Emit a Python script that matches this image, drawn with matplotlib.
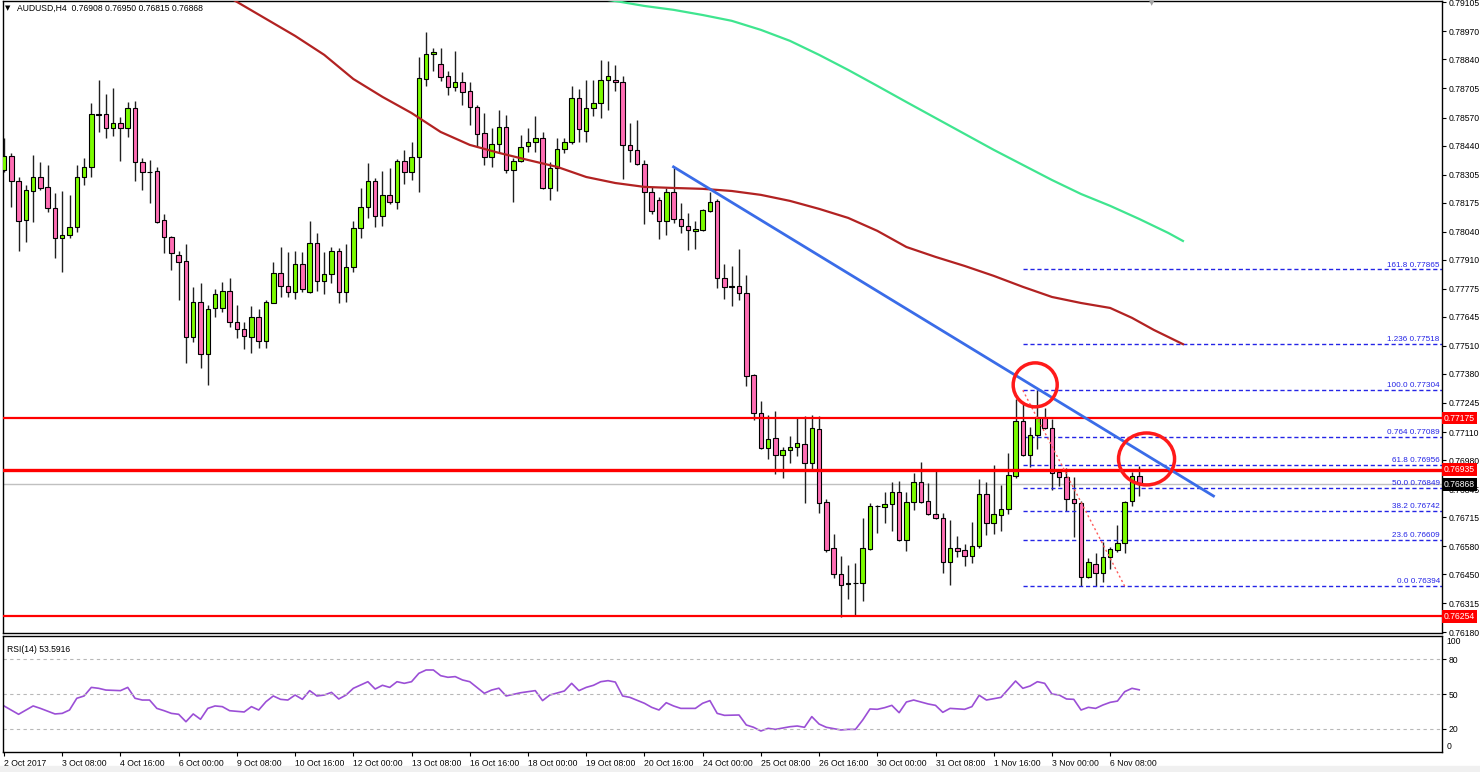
import numpy as np
import matplotlib
matplotlib.use('Agg')
import matplotlib.pyplot as plt
from matplotlib.patches import Ellipse, Rectangle
from matplotlib.transforms import blended_transform_factory

plt.rcParams['font.family'] = ['Liberation Sans', 'DejaVu Sans']

# AUDUSD H4 candles, prices in points (1e-5)
opens = [78327, 78392, 78275, 78095, 78229, 78295, 78248, 78150, 78011, 78025,   # 0
         78063, 78295, 78341, 78586, 78586, 78522, 78545, 78522, 78615, 78364,   # 10
         78318, 78322, 78095, 78016, 77932, 77904, 77552, 77714, 77472, 77686,   # 20
         77686, 77765, 77621, 77588, 77552, 77645, 77532, 77709, 77848, 77788,   # 30
         77761, 77890, 77761, 77988, 77811, 77843, 77950, 77761, 77877, 78058,   # 40
         78155, 78275, 78113, 78211, 78178, 78368, 78318, 78387, 78749, 78865,   # 50
         78818, 78763, 78713, 78736, 78694, 78620, 78498, 78387, 78447, 78527,   # 60
         78327, 78368, 78438, 78457, 78475, 78243, 78336, 78424, 78457, 78661,   # 70
         78508, 78615, 78638, 78745, 78745, 78736, 78443, 78420, 78355, 78225,   # 80
         78187, 78090, 78225, 78099, 78067, 78044, 78048, 78136, 78183, 77825,   # 90
         77784, 77788, 77756, 77375, 77199, 77036, 77083, 77004, 77027, 77041,   # 100
         77055, 76966, 77125, 76786, 76572, 76451, 76405, 76410, 76410, 76567,   # 110
         76767, 76762, 76776, 76832, 76609, 76786, 76878, 76790, 76730, 76711,   # 120
         76507, 76572, 76563, 76535, 76581, 76823, 76688, 76725, 76753, 76906,   # 130
         77162, 77004, 77097, 77175, 77129, 76925, 76902, 76800, 76781, 76437,   # 140
         76498, 76456, 76530, 76563, 76595, 76790, 76908]                        # 150
highs = [78475, 78406, 78295, 78257, 78397, 78364, 78350, 78220, 78229, 78211,
         78350, 78382, 78638, 78745, 78679, 78708, 78573, 78643, 78647, 78382,
         78373, 78341, 78122, 78020, 77950, 77983, 77784, 77802, 77700, 77774,
         77807, 77825, 77700, 77621, 77695, 77681, 77723, 77900, 77969, 77946,
         77950, 77946, 78090, 78034, 77946, 77969, 77965, 77983, 78090, 78243,
         78359, 78290, 78322, 78336, 78378, 78420, 78457, 78852, 78968, 78893,
         78893, 78786, 78879, 78782, 78736, 78629, 78591, 78522, 78605, 78582,
         78382, 78489, 78522, 78577, 78503, 78364, 78475, 78475, 78717, 78703,
         78745, 78745, 78837, 78833, 78814, 78763, 78545, 78559, 78373, 78248,
         78201, 78243, 78336, 78173, 78127, 78090, 78146, 78225, 78192, 77890,
         77881, 77960, 77839, 77380, 77254, 77190, 77208, 77041, 77092, 77175,
         77185, 77190, 77185, 76800, 76637, 76535, 76493, 76502, 76711, 76781,
         76771, 76832, 76878, 76883, 76832, 76920, 76971, 76874, 76929, 76734,
         76702, 76628, 76590, 76692, 76892, 76878, 76957, 76864, 77013, 77264,
         77250, 77134, 77304, 77222, 77171, 76939, 76943, 76902, 76790, 76525,
         76549, 76600, 76577, 76679, 76790, 76925, 76950]
lows = [78318, 78155, 77950, 77993, 78086, 78234, 78132, 77918, 77853, 78011,
        78039, 78257, 78295, 78503, 78475, 78484, 78368, 78480, 78275, 78234,
        78173, 78081, 77941, 77862, 77723, 77431, 77528, 77408, 77329, 77645,
        77668, 77598, 77547, 77495, 77477, 77500, 77500, 77709, 77737, 77737,
        77728, 77761, 77756, 77765, 77751, 77802, 77709, 77714, 77853, 78011,
        78104, 78063, 78067, 78170, 78146, 78261, 78280, 78225, 78717, 78786,
        78740, 78675, 78694, 78629, 78536, 78434, 78350, 78341, 78406, 78313,
        78178, 78364, 78411, 78411, 78238, 78187, 78229, 78406, 78447, 78457,
        78457, 78577, 78568, 78605, 78694, 78285, 78364, 78350, 78077, 78122,
        78006, 78025, 78081, 78034, 77955, 77960, 78044, 78132, 77779, 77728,
        77695, 77723, 77324, 77166, 77032, 76985, 76915, 76897, 76966, 76999,
        76781, 76939, 76734, 76553, 76433, 76252, 76335, 76256, 76326, 76563,
        76641, 76688, 76650, 76605, 76558, 76748, 76781, 76725, 76706, 76456,
        76400, 76530, 76488, 76502, 76572, 76632, 76637, 76650, 76730, 76897,
        76999, 76948, 77032, 77125, 76841, 76860, 76744, 76623, 76394, 76433,
        76396, 76414, 76474, 76553, 76549, 76767, 76815]
closes = [78392, 78275, 78090, 78234, 78295, 78243, 78150, 78011, 78025, 78063,
          78295, 78341, 78586, 78584, 78522, 78545, 78522, 78615, 78364, 78318,
          78316, 78086, 78016, 77941, 77900, 77552, 77714, 77472, 77681, 77751,
          77765, 77621, 77588, 77556, 77645, 77532, 77714, 77848, 77788, 77761,
          77890, 77774, 77988, 77811, 77843, 77950, 77761, 77877, 78058, 78155,
          78275, 78113, 78211, 78178, 78368, 78318, 78387, 78754, 78865, 78875,
          78759, 78713, 78736, 78689, 78620, 78493, 78387, 78447, 78527, 78327,
          78368, 78434, 78457, 78475, 78243, 78336, 78424, 78457, 78661, 78517,
          78615, 78638, 78745, 78763, 78736, 78443, 78420, 78355, 78225, 78136,
          78090, 78225, 78099, 78067, 78048, 78053, 78141, 78178, 77825, 77784,
          77788, 77756, 77370, 77199, 77036, 77078, 77004, 77027, 77041, 77060,
          76966, 77129, 76781, 76563, 76451, 76400, 76410, 76407, 76572, 76767,
          76765, 76776, 76832, 76609, 76786, 76878, 76786, 76730, 76711, 76507,
          76572, 76558, 76535, 76581, 76823, 76688, 76730, 76753, 76911, 77162,
          77004, 77097, 77175, 77129, 76920, 76902, 76800, 76781, 76437, 76507,
          76456, 76530, 76567, 76595, 76786, 76906, 76868]

# moving averages (shifted forward)
ma_red_idx = [28, 32, 36, 40, 44, 48, 52, 56, 60, 64, 68, 72, 76, 80, 84, 88, 92, 96,
              100, 104, 108, 112, 116, 120, 124, 128, 132, 136, 140, 144, 148, 152,
              155, 158, 162]
ma_red_val = [79186, 79107, 79028, 78949, 78861, 78749, 78666, 78591, 78503, 78443,
              78406, 78373, 78341, 78294, 78266, 78248, 78243, 78239, 78229, 78211,
              78183, 78146, 78104, 78044, 77969, 77923, 77881, 77835, 77784, 77737,
              77709, 77686, 77640, 77584, 77518]
ma_green_idx = [80, 84, 88, 92, 96, 100, 104, 108, 112, 116, 120, 124, 128, 132, 136,
                140, 144, 148, 152, 156, 160, 162]
ma_green_val = [79130, 79111, 79088, 79070, 79046, 79019, 78977, 78926, 78861, 78791,
                78717, 78642, 78568, 78494, 78420, 78350, 78280, 78215, 78160, 78099,
                78034, 77997]

# RSI(14) vertices
rsi_idx = [0, 2, 4, 5, 7, 8, 9, 10, 11, 12, 13, 14, 16, 17, 18, 19, 20, 21, 22, 23,
           24, 25, 26, 27, 28, 29, 30, 31, 33, 34, 35, 36, 37, 38, 39, 40, 41, 42, 43, 44,
           45, 46, 47, 48, 50, 51, 52, 53, 54, 55, 56, 57, 58, 59, 60, 61, 62, 63, 64, 66,
           67, 68, 69, 71, 72, 73, 74, 75, 77, 78, 79, 80, 81, 82, 83, 84, 85, 86, 88, 89,
           90, 91, 92, 93, 95, 96, 97, 98, 99, 101, 102, 103, 104, 105, 106, 108, 109, 110,
           111, 112, 113, 115, 116, 117, 118, 119, 120, 121, 122, 123, 124, 125, 127, 128,
           129, 130, 132, 133, 134, 135, 137, 139, 140, 141, 142, 143, 144, 145, 146, 147,
           148, 149, 150, 151, 152, 153, 154, 155, 156]
rsi_val = [39.7, 32.5, 39.7, 37.6, 32.8, 33.3, 36.2, 46.3, 48.3, 55.7, 54.9, 53.4, 52.9,
           55.7, 46.3, 44.8, 44.8, 37.6, 35.6, 33.3, 32.5, 26.1, 32.8, 28.2, 37.6, 39.7,
           39.1, 35.6, 34.5, 39.1, 36.2, 43.4, 48.3, 45.4, 44.8, 49.1, 45.4, 52.9, 48.3,
           49.1, 51.4, 45.7, 49.1, 54.9, 60.6, 54.3, 57.5, 55.7, 60.6, 59.2, 60.6, 67.8,
           70.7, 70.7, 65.8, 64.4, 65.0, 62.1, 60.6, 50.6, 53.4, 55.0, 48.3, 51.1, 52.0,
           52.9, 44.3, 49.1, 52.6, 59.2, 52.9, 55.7, 57.5, 60.6, 61.5, 60.3, 48.3, 47.1,
           42.0, 38.5, 36.2, 42.5, 39.7, 37.6, 37.6, 42.0, 44.3, 33.3, 31.6, 31.9, 23.3,
           21.3, 18.1, 20.4, 19.5, 21.8, 22.4, 21.3, 30.5, 24.1, 21.3, 19.0, 19.5, 19.5,
           27.6, 37.1, 36.8, 38.2, 40.2, 33.9, 43.1, 44.8, 41.4, 40.2, 34.2, 37.6, 36.8,
           39.1, 48.9, 44.8, 47.1, 61.2, 54.9, 56.9, 60.6, 59.2, 50.0, 49.1, 45.7, 45.4,
           36.2, 38.5, 37.6, 40.5, 42.8, 43.9, 52.0, 54.9, 53.59]

# trend line, support/resistance, fibonacci
trend_idx = [92, 166.2]
trend_val = [0.78341, 0.76813]
sr_levels = [0.77175, 0.76935, 0.76254]
fib_levels = [0.77865, 0.77518, 0.77304, 0.77089, 0.76956, 0.76849, 0.76742, 0.76609, 0.76394]
fib_names = ['161.8', '1.236', '100.0', '0.764', '61.8', '50.0', '38.2', '23.6', '0.0']
last_price = 0.76868

price_ticks = [0.79105, 0.78970, 0.78840, 0.78705, 0.78570, 0.78440, 0.78305, 0.78175,
               0.78040, 0.77910, 0.77775, 0.77645, 0.77510, 0.77380, 0.77245, 0.77110,
               0.76980, 0.76845, 0.76715, 0.76580, 0.76450, 0.76315, 0.76180]
time_labels = ['2 Oct 2017', '3 Oct 08:00', '4 Oct 16:00', '6 Oct 00:00', '9 Oct 08:00',
               '10 Oct 16:00', '12 Oct 00:00', '13 Oct 08:00', '16 Oct 16:00', '18 Oct 00:00',
               '19 Oct 08:00', '20 Oct 16:00', '24 Oct 00:00', '25 Oct 08:00', '26 Oct 16:00',
               '30 Oct 00:00', '31 Oct 08:00', '1 Nov 16:00', '3 Nov 00:00', '6 Nov 08:00']

W, H = 1480, 772
fig = plt.figure(figsize=(W / 100, H / 100), dpi=100)
fig.patch.set_facecolor('white')


def px_axes(x0, y0, x1, y1):
    return fig.add_axes([x0 / W, 1 - y1 / H, (x1 - x0) / W, (y1 - y0) / H])


ax = px_axes(3, 1, 1442, 633)
axr = px_axes(3, 636, 1442, 752)
XMAX = 197.6
for a in (ax, axr):
    a.set_xlim(-0.14, XMAX)
    for s in a.spines.values():
        s.set_color('black')
        s.set_linewidth(1)

o = np.array(opens) / 1e5
h = np.array(highs) / 1e5
l = np.array(lows) / 1e5
c = np.array(closes) / 1e5
idx = np.arange(len(o))
up = c >= o

ax.vlines(idx, l, h, color='#202020', lw=1, zorder=2)
body_bot = np.minimum(o, c)
body_h = np.maximum(np.abs(c - o), 0.00002)
ax.bar(idx, body_h, bottom=body_bot, width=0.62,
       color=np.where(up, '#7CFC00', '#FF6EB4'), edgecolor='black', linewidth=0.8, zorder=3)

ax.plot(ma_red_idx, np.array(ma_red_val) / 1e5, color='#B22222', lw=1.6, zorder=4)
ax.plot(ma_green_idx, np.array(ma_green_val) / 1e5, color='#3FE58F', lw=1.6, zorder=4)

ax.axhline(last_price, color='#C0C0C0', lw=1, zorder=1)
for lv, lw in zip(sr_levels, [1.6, 2.4, 1.6]):
    ax.axhline(lv, color='#FF0000', lw=lw, zorder=4)

fib_start = 140
for lv, nm in zip(fib_levels, fib_names):
    ax.plot([fib_start, XMAX], [lv, lv], color='#2424E6', lw=1, ls=(0, (3, 2)), zorder=2)
    ax.text(XMAX - 0.3, lv + 0.00004, f'{nm} {lv:.5f}', ha='right', va='bottom',
            fontsize=5.9, color='#2424E6', zorder=5)
ax.plot([140, 154], [fib_levels[2], fib_levels[-1]], color='#FF5A5A', lw=1,
        ls=(0, (1.5, 2)), zorder=4)

ax.plot(trend_idx, trend_val, color='#3A6CE8', lw=2, zorder=5)
ax.add_patch(Ellipse((141.7, 0.77329), 6.05, 0.00204, fill=False, ec='#FF1A1A', lw=2.5, zorder=6))
ax.add_patch(Ellipse((157.0, 0.76985), 7.7, 0.00241, fill=False, ec='#FF1A1A', lw=2.5, zorder=6))

ax.set_ylim(0.76177, 0.79111)
ax.yaxis.tick_right()
ax.set_yticks(price_ticks)
ax.set_yticklabels([f'{t:.5f}' for t in price_ticks])
ax.tick_params(axis='y', length=3, width=0.8, pad=2, labelsize=6.2)
ax.set_xticks([])

trans = blended_transform_factory(ax.transAxes, ax.transData)
for lv in sr_levels:
    ax.text(1.0012, lv, f'{lv:.5f}', transform=trans, ha='left', va='center', fontsize=6.2,
            color='white', clip_on=False, zorder=8,
            bbox=dict(boxstyle='square,pad=0.22', fc='#FF0000', ec='none'))
ax.text(1.0012, last_price, f'{last_price:.5f}', transform=trans, ha='left', va='center',
        fontsize=6.2, color='white', clip_on=False, zorder=8,
        bbox=dict(boxstyle='square,pad=0.22', fc='black', ec='none'))

# RSI panel
axr.plot(rsi_idx, rsi_val, color='#9B4FD6', lw=1.2)
for lv in (80, 50, 20):
    axr.axhline(lv, color='#B8B8B8', lw=0.8, ls=(0, (3, 3)))
axr.set_ylim(0, 100)
axr.yaxis.tick_right()
axr.set_yticks([80, 50, 20])
axr.tick_params(axis='y', length=3, width=0.8, pad=2, labelsize=6.2)
rtrans = blended_transform_factory(axr.transAxes, axr.transData)
axr.text(1.003, 95, '100', transform=rtrans, ha='left', va='center', fontsize=6.2, clip_on=False)
axr.text(1.003, 5, '0', transform=rtrans, ha='left', va='center', fontsize=6.2, clip_on=False)
axr.text(0.003, 0.92, 'RSI(14) 53.5916', transform=axr.transAxes, ha='left', va='top',
         fontsize=6.2)
axr.set_xticks(np.arange(len(time_labels)) * 8)
axr.set_xticklabels(time_labels, ha='left')
axr.tick_params(axis='x', length=3, width=0.8, pad=2, labelsize=6.2)

fig.text(8 / W, 1 - 8 / H, '\u25bc', fontsize=5, va='center', ha='center',
         family='DejaVu Sans')
fig.text(17 / W, 1 - 8 / H, 'AUDUSD,H4  0.76908 0.76950 0.76815 0.76868', fontsize=6.2,
         va='center', ha='left')
fig.text(1152 / W, 1 - 3 / H, '\u25bc', fontsize=5, va='center', ha='center',
         color='#A0A0A0', family='DejaVu Sans')
fig.patches.append(Rectangle((0, 0), 1, 6 / H, transform=fig.transFigure,
                             color='#F0F0F0', zorder=0))

fig.savefig('out.png', dpi=100)
